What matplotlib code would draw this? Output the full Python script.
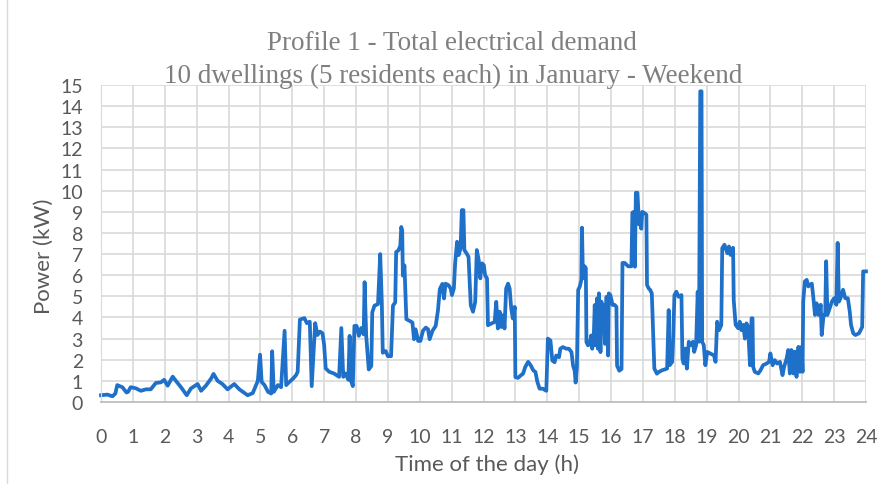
import matplotlib.pyplot as plt
from matplotlib.lines import Line2D

# time of day (h) and total demand (kW)
hours = [
    0.00, 0.20, 0.36, 0.45, 0.51, 0.67, 0.80, 0.85, 0.93, 1.09, 1.25, 1.41, 1.56,
    1.72, 1.88, 1.98, 2.09, 2.25, 2.35, 2.51, 2.69, 2.82, 3.03, 3.14, 3.29, 3.45,
    3.53, 3.66, 3.81, 3.97, 4.18, 4.34, 4.60, 4.76, 4.92, 4.99, 5.04, 5.13, 5.24,
    5.34, 5.37, 5.42, 5.55, 5.65, 5.76, 5.81, 5.91, 6.02, 6.12, 6.17, 6.24, 6.38,
    6.46, 6.55, 6.61, 6.72, 6.79, 6.87, 6.95, 7.00, 7.05, 7.16, 7.31, 7.47, 7.54,
    7.60, 7.67, 7.76, 7.80, 7.83, 7.90, 7.95, 8.02, 8.09, 8.16, 8.24, 8.27, 8.32,
    8.40, 8.48, 8.51, 8.58, 8.69, 8.76, 8.81, 8.84, 8.93, 9.00, 9.10, 9.16, 9.23,
    9.26, 9.33, 9.39, 9.42, 9.45, 9.47, 9.52, 9.58, 9.68, 9.77, 9.82, 9.87, 9.95,
    10.02, 10.10, 10.19, 10.26, 10.31, 10.40, 10.50, 10.57, 10.63, 10.71, 10.76,
    10.81, 10.90, 10.97, 11.01, 11.07, 11.11, 11.17, 11.22, 11.28, 11.32, 11.37,
    11.40, 11.47, 11.53, 11.60, 11.67, 11.74, 11.79, 11.85, 11.90, 11.95, 12.01,
    12.05, 12.11, 12.14, 12.24, 12.35, 12.40, 12.45, 12.51, 12.56, 12.61, 12.66,
    12.71, 12.77, 12.82, 12.87, 12.92, 12.98, 13.00, 13.08, 13.17, 13.24, 13.31,
    13.40, 13.48, 13.56, 13.63, 13.69, 13.76, 13.86, 13.97, 14.02, 14.10, 14.16,
    14.23, 14.28, 14.37, 14.41, 14.49, 14.60, 14.68, 14.76, 14.81, 14.86, 14.89,
    14.93, 14.97, 15.02, 15.07, 15.09, 15.12, 15.17, 15.21, 15.23, 15.28, 15.33,
    15.38, 15.41, 15.46, 15.49, 15.52, 15.56, 15.59, 15.62, 15.67, 15.70, 15.73,
    15.77, 15.81, 15.86, 15.91, 15.93, 15.98, 16.05, 16.12, 16.17, 16.19, 16.26,
    16.33, 16.36, 16.43, 16.54, 16.64, 16.67, 16.72, 16.75, 16.78, 16.83, 16.88,
    16.91, 16.95, 16.98, 17.05, 17.11, 17.13, 17.18, 17.23, 17.28, 17.36, 17.44,
    17.50, 17.60, 17.76, 17.81, 17.84, 17.92, 17.95, 17.99, 18.05, 18.12, 18.21,
    18.24, 18.28, 18.33, 18.38, 18.44, 18.51, 18.57, 18.61, 18.67, 18.72, 18.76,
    18.80, 18.84, 18.86, 18.91, 18.96, 19.02, 19.12, 19.23, 19.28, 19.33, 19.39,
    19.46, 19.49, 19.56, 19.65, 19.70, 19.75, 19.83, 19.85, 19.91, 19.99, 20.04,
    20.09, 20.15, 20.20, 20.25, 20.30, 20.36, 20.41, 20.44, 20.46, 20.51, 20.62,
    20.69, 20.77, 20.88, 20.96, 21.00, 21.07, 21.14, 21.21, 21.30, 21.38, 21.43,
    21.51, 21.56, 21.61, 21.66, 21.72, 21.77, 21.82, 21.88, 21.93, 21.98, 22.01,
    22.03, 22.08, 22.14, 22.19, 22.24, 22.30, 22.35, 22.40, 22.45, 22.51, 22.58,
    22.61, 22.67, 22.72, 22.75, 22.79, 22.86, 22.93, 23.00, 23.07, 23.11, 23.15,
    23.20, 23.28, 23.35, 23.43, 23.49, 23.53, 23.60, 23.67, 23.78, 23.86, 23.88,
    23.91, 24.00,
]
power_kw = [
    0.32, 0.35, 0.27, 0.40, 0.80, 0.70, 0.45, 0.48, 0.70, 0.65, 0.53, 0.60, 0.60,
    0.90, 0.93, 1.05, 0.77, 1.20, 1.00, 0.70, 0.32, 0.64, 0.85, 0.53, 0.77, 1.10,
    1.33, 1.00, 0.85, 0.60, 0.85, 0.60, 0.32, 0.42, 1.00, 2.24, 0.95, 0.80, 0.48,
    0.40, 2.40, 0.48, 0.80, 0.70, 3.37, 0.80, 0.95, 1.10, 1.27, 1.43, 3.90, 3.97,
    3.73, 3.80, 0.75, 3.73, 3.17, 3.33, 3.25, 2.70, 1.59, 1.43, 1.35, 1.19, 3.50,
    1.19, 1.35, 1.05, 3.13, 1.06, 0.75, 3.60, 3.60, 3.13, 3.50, 3.20, 5.67, 3.13,
    1.54, 1.70, 4.24, 4.56, 4.63, 7.00, 4.71, 2.33, 2.41, 2.17, 2.17, 4.56, 4.71,
    7.10, 7.17, 7.40, 8.28, 8.10, 5.98, 6.46, 3.92, 3.84, 3.76, 2.97, 3.44, 2.89,
    2.89, 3.37, 3.52, 3.44, 2.97, 3.37, 3.60, 4.32, 5.35, 5.59, 4.90,
    5.60, 5.53, 5.37, 5.06, 5.37, 6.56, 7.58, 6.95, 7.27, 9.08, 9.08,
    7.19, 7.03, 6.87, 4.58, 4.27, 4.74, 7.19, 6.71, 5.85, 6.56, 6.48,
    6.00, 5.85, 3.63, 3.71, 3.79, 4.74, 3.48, 4.27, 3.55, 4.10, 3.48,
    5.37, 5.60, 5.37, 4.42, 3.95, 4.50, 1.18, 1.14, 1.26, 1.34, 1.66,
    1.90, 1.74, 1.50, 1.42, 0.95, 0.63, 0.63, 0.53, 3.00, 2.91, 1.96,
    1.88, 2.20, 2.12, 2.52, 2.60, 2.52, 2.52, 2.36, 1.72, 1.48, 0.92,
    1.64, 5.30, 5.46, 5.78, 8.25, 5.86, 6.42, 6.34, 2.83, 2.68, 2.75,
    3.15, 2.52, 3.15, 4.59, 2.68, 4.90, 2.52, 5.14, 2.36, 4.75, 3.63,
    4.59, 2.75, 4.98, 2.20, 5.14, 5.06, 4.59, 4.59, 4.50, 1.72, 1.48,
    1.56, 6.58, 6.58, 6.42, 6.42, 8.96, 9.00, 6.40, 9.90, 9.90, 8.40,
    8.70, 8.20, 9.00, 8.94, 8.86, 5.54, 5.38, 5.30, 5.14, 1.58, 1.34,
    1.42, 1.50, 1.58, 4.35, 1.74, 1.90, 3.00, 5.06, 5.22, 4.98, 5.06,
    2.06, 1.82, 2.53, 1.58, 2.85, 2.69, 2.85, 2.37, 2.69, 5.22, 2.85,
    14.70, 14.70, 2.85, 2.69, 1.74, 2.37, 2.29, 2.21, 1.90, 3.80, 3.40,
    3.64, 7.28, 7.44, 7.04, 7.36, 6.96, 7.30, 4.83, 3.65, 3.49, 3.80,
    3.40, 3.65, 3.00, 3.72, 3.57, 1.74, 3.96, 3.96, 1.66, 1.43, 1.35,
    1.50, 1.74, 1.82, 1.90, 2.30, 1.74, 1.98, 1.82, 1.90, 1.27, 1.66,
    2.06, 2.46, 1.35, 2.46, 1.35, 2.38, 1.19, 2.61, 1.43, 2.61, 1.43,
    4.75, 5.70, 5.78, 5.47, 5.55, 5.60, 4.91, 4.12, 4.67, 4.12, 4.60,
    3.17, 4.12, 4.12, 6.66, 4.12, 4.44, 4.75, 4.91, 4.60, 7.53, 4.75,
    4.91, 5.31, 4.91, 4.91, 4.28, 3.65, 3.25, 3.17, 3.25, 3.49, 3.55,
    6.18, 6.18,
]
x_ticks = list(range(0, 25))
y_ticks = list(range(0, 16))

W, H = 886, 485
fig = plt.figure(figsize=(W / 100, H / 100), dpi=100)
ax = fig.add_axes([101 / W, 1 - 403 / H, 765 / W, 317 / H])

ax.plot(hours, power_kw, color='#1f70c8', linewidth=2.7, solid_joinstyle='round',
        clip_on=False)

ax.set_xlim(0, 24)
ax.set_ylim(0, 15)
ax.set_xticks(x_ticks)
ax.set_yticks(y_ticks)
ax.grid(True, color='#d9d9d9', linewidth=1.2)
ax.set_axisbelow(True)
for s in ['top', 'right']:
    ax.spines[s].set_visible(False)
ax.spines['left'].set_color('#d9d9d9')
ax.spines['bottom'].set_color('#bfbfbf')
ax.spines['bottom'].set_linewidth(1.3)
ax.tick_params(length=0, labelsize=14, labelcolor='#595959')
ax.tick_params(axis='x', pad=19)
ax.tick_params(axis='y', pad=13)
for lab in ax.get_xticklabels() + ax.get_yticklabels():
    lab.set_fontfamily('Lato')

grey = '#7f7f7f'
fig.text(452 / W, 1 - 44 / H, 'Profile 1 - Total electrical demand',
         family='Liberation Serif', fontsize=19.5, color=grey, ha='center', va='center')
fig.text(453 / W, 1 - 76 / H, '10 dwellings (5 residents each) in January - Weekend',
         family='Liberation Serif', fontsize=19.5, color=grey, ha='center', va='center')
fig.text(487 / W, 1 - 465 / H, 'Time of the day (h)', family='Lato', fontsize=16,
         color='#595959', ha='center', va='center')
fig.text(44 / W, 1 - 256 / H, 'Power (kW)', family='Lato', fontsize=16,
         color='#595959', ha='center', va='center', rotation=90)

fig.add_artist(Line2D([7 / W, 7 / W], [0, 1], transform=fig.transFigure,
                      color='#d9d9d9', linewidth=1))

fig.savefig('out.png', dpi=100)
